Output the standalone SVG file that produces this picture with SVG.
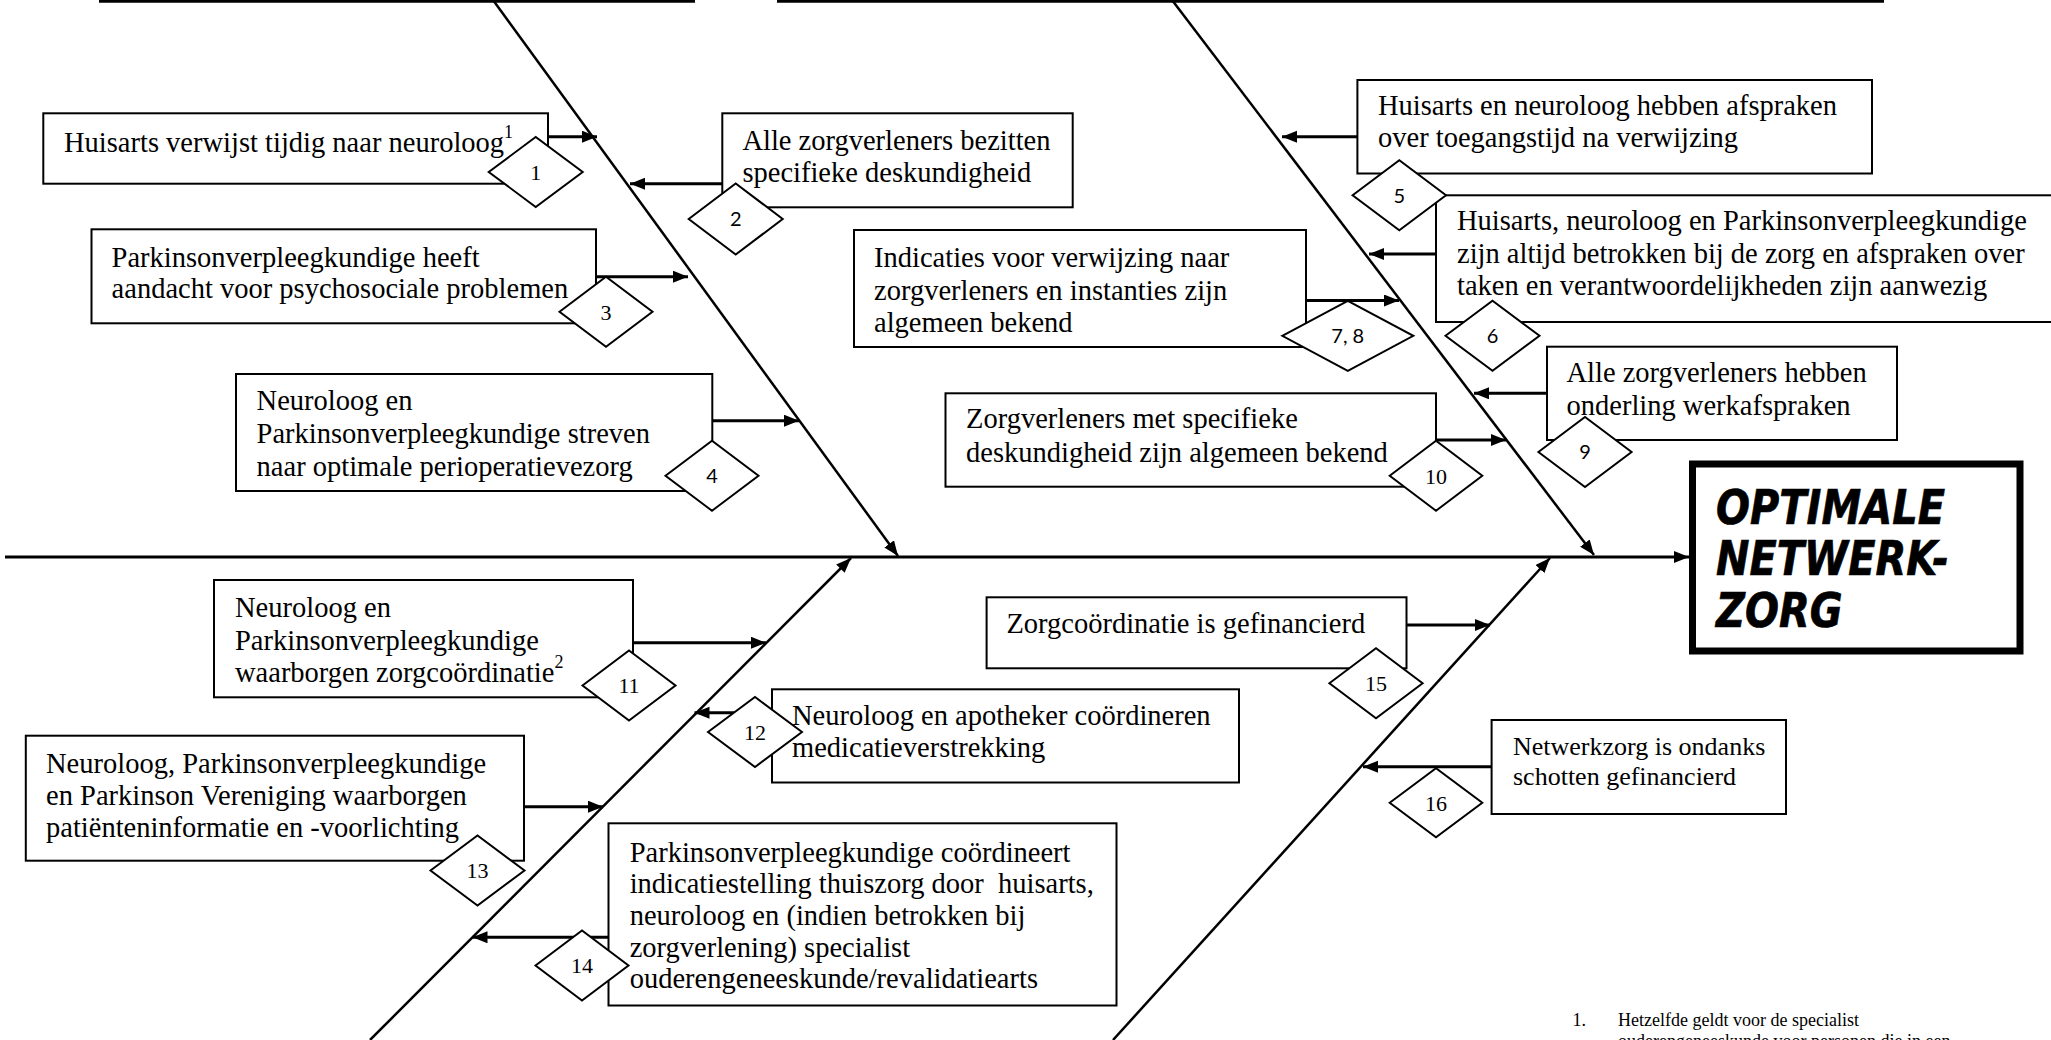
<svg xmlns="http://www.w3.org/2000/svg" width="2051" height="1040" viewBox="0 0 2051 1040">
<style>
.bg{fill:#fff}
.top{stroke:#000;stroke-width:5.5;fill:none}
.bone{stroke:#000;stroke-width:2.5;fill:none;marker-end:url(#ah)}
.spine{stroke:#000;stroke-width:3;fill:none;marker-end:url(#ah)}
.conn{stroke:#000;stroke-width:3;fill:none;marker-end:url(#ah)}
.box{fill:#fff;stroke:#000;stroke-width:2}
.dia{fill:#fff;stroke:#000;stroke-width:2}
.t{font-family:"Liberation Serif","Times New Roman",serif;font-size:28.5px;fill:#000}
.t16{font-family:"Liberation Serif","Times New Roman",serif;font-size:26px;fill:#000}
.sup{font-size:18px}
.ns{font-family:"Liberation Serif",serif;font-size:22px;text-anchor:middle;fill:#000}
.nn{font-family:Lato,"Open Sans",sans-serif;font-size:20px;text-anchor:middle;fill:#000}
.goal{fill:#fff;stroke:#000;stroke-width:7}
.gt{font-family:"DejaVu Sans",Verdana,sans-serif;font-weight:bold;font-style:italic;font-size:40px;fill:#000;stroke:#000;stroke-width:0.6}
.fn{font-family:"Liberation Serif",serif;font-size:18px;fill:#000}
</style>
<defs>
<marker id="ah" markerUnits="userSpaceOnUse" markerWidth="16" markerHeight="13" refX="15" refY="6" orient="auto">
<path d="M0,0 L15,6 L0,12 z" fill="#000"/>
</marker>
</defs>
<rect class="bg" x="0" y="0" width="2051" height="1040"/>

<g id="bones">
<line class="top" x1="99" y1="0" x2="695" y2="0"/>
<line class="top" x1="777" y1="0" x2="1884" y2="0"/>
<line class="bone" x1="493" y1="0" x2="898" y2="556"/>
<line class="bone" x1="1172" y1="0" x2="1594" y2="555"/>
<line class="bone" x1="370" y1="1040" x2="851" y2="558"/>
<line class="bone" x1="1113" y1="1040" x2="1550" y2="558"/>
<line class="spine" x1="5" y1="557" x2="1689" y2="557"/>
</g>

<g id="connectors">
<line class="conn" x1="548" y1="136.7" x2="597" y2="136.7"/>
<line class="conn" x1="722.3" y1="183.7" x2="630" y2="183.7"/>
<line class="conn" x1="596" y1="276.7" x2="688" y2="276.7"/>
<line class="conn" x1="712.3" y1="420.7" x2="799" y2="420.7"/>
<line class="conn" x1="1357.4" y1="136.7" x2="1282" y2="136.7"/>
<line class="conn" x1="1436" y1="254" x2="1369" y2="254"/>
<line class="conn" x1="1306" y1="300.5" x2="1399" y2="300.5"/>
<line class="conn" x1="1547" y1="393.3" x2="1474" y2="393.3"/>
<line class="conn" x1="1436" y1="440" x2="1506" y2="440"/>
<line class="conn" x1="633" y1="642.7" x2="766" y2="642.7"/>
<line class="conn" x1="772" y1="712.7" x2="694.5" y2="712.7"/>
<line class="conn" x1="524" y1="806.7" x2="603" y2="806.7"/>
<line class="conn" x1="608.5" y1="937.3" x2="472.5" y2="937.3"/>
<line class="conn" x1="1406.5" y1="625" x2="1490" y2="625"/>
<line class="conn" x1="1491.6" y1="766.7" x2="1363" y2="766.7"/>
</g>

<g id="node-1">
<rect class="box" x="43.3" y="113.3" width="504.7" height="70.4"/>
<text class="t" x="64" y="151.7">Huisarts verwijst tijdig naar neuroloog<tspan class="sup" dy="-14">1</tspan></text>
</g>
<g id="node-2">
<rect class="box" x="722.3" y="113.3" width="350.4" height="94"/>
<text class="t"><tspan x="742.4" y="150">Alle zorgverleners bezitten</tspan><tspan x="742.4" y="181.7">specifieke deskundigheid</tspan></text>
</g>
<g id="node-3">
<rect class="box" x="91.5" y="229.3" width="504.5" height="94"/>
<text class="t"><tspan x="111.6" y="266.7">Parkinsonverpleegkundige heeft</tspan><tspan x="111.6" y="298.3">aandacht voor psychosociale problemen</tspan></text>
</g>
<g id="node-4">
<rect class="box" x="236" y="374" width="476.3" height="117"/>
<text class="t"><tspan x="256.6" y="410">Neuroloog en</tspan><tspan x="256.6" y="443">Parkinsonverpleegkundige streven</tspan><tspan x="256.6" y="475.5">naar optimale perioperatievezorg</tspan></text>
</g>
<g id="node-5">
<rect class="box" x="1357.4" y="80" width="514.6" height="93.5"/>
<text class="t"><tspan x="1378" y="115">Huisarts en neuroloog hebben afspraken</tspan><tspan x="1378" y="146.7">over toegangstijd na verwijzing</tspan></text>
</g>
<g id="node-6">
<rect class="box" x="1436" y="195.3" width="617" height="126.7"/>
<text class="t"><tspan x="1457" y="230">Huisarts, neuroloog en Parkinsonverpleegkundige</tspan><tspan x="1457" y="263.3">zijn altijd betrokken bij de zorg en afspraken over</tspan><tspan x="1457" y="295">taken en verantwoordelijkheden zijn aanwezig</tspan></text>
</g>
<g id="node-7-8">
<rect class="box" x="854" y="230" width="452" height="117"/>
<text class="t"><tspan x="874" y="266.7">Indicaties voor verwijzing naar</tspan><tspan x="874" y="300">zorgverleners en instanties zijn</tspan><tspan x="874" y="331.7">algemeen bekend</tspan></text>
</g>
<g id="node-9">
<rect class="box" x="1547" y="346.7" width="350" height="93.3"/>
<text class="t"><tspan x="1566.5" y="381.7">Alle zorgverleners hebben</tspan><tspan x="1566.5" y="415">onderling werkafspraken</tspan></text>
</g>
<g id="node-10">
<rect class="box" x="945.5" y="393.3" width="490.5" height="93.4"/>
<text class="t"><tspan x="966" y="428.3">Zorgverleners met specifieke</tspan><tspan x="966" y="461.7">deskundigheid zijn algemeen bekend</tspan></text>
</g>
<g id="node-11">
<rect class="box" x="214" y="580" width="419" height="117.3"/>
<text class="t"><tspan x="235" y="616.7">Neuroloog en</tspan><tspan x="235" y="650">Parkinsonverpleegkundige</tspan><tspan x="235" y="681.7">waarborgen zorgcoördinatie</tspan><tspan class="sup" dy="-14">2</tspan></text>
</g>
<g id="node-12">
<rect class="box" x="772" y="689.3" width="467" height="93.2"/>
<text class="t"><tspan x="792" y="725">Neuroloog en apotheker coördineren</tspan><tspan x="792" y="756.7">medicatieverstrekking</tspan></text>
</g>
<g id="node-13">
<rect class="box" x="25.8" y="735.7" width="498.2" height="125"/>
<text class="t"><tspan x="46" y="773.3">Neuroloog, Parkinsonverpleegkundige</tspan><tspan x="46" y="805">en Parkinson Vereniging waarborgen</tspan><tspan x="46" y="836.7">patiënteninformatie en -voorlichting</tspan></text>
</g>
<g id="node-14">
<rect class="box" x="608.5" y="823.3" width="508" height="182.2"/>
<text class="t"><tspan x="629.7" y="861.7">Parkinsonverpleegkundige coördineert</tspan><tspan x="629.7" y="893.3" xml:space="preserve">indicatiestelling thuiszorg door  huisarts,</tspan><tspan x="629.7" y="925">neuroloog en (indien betrokken bij</tspan><tspan x="629.7" y="956.7">zorgverlening) specialist</tspan><tspan x="629.7" y="988.3">ouderengeneeskunde/revalidatiearts</tspan></text>
</g>
<g id="node-15">
<rect class="box" x="986.6" y="597.3" width="419.9" height="71"/>
<text class="t" x="1006.4" y="633.3">Zorgcoördinatie is gefinancierd</text>
</g>
<g id="node-16">
<rect class="box" x="1491.6" y="720" width="294.4" height="94"/>
<text class="t16"><tspan x="1513" y="755">Netwerkzorg is ondanks</tspan><tspan x="1513" y="785">schotten gefinancierd</tspan></text>
</g>

<g id="badges">
<g id="badge-1"><polygon class="dia" points="488.7,172 535.7,137 582.7,172 535.7,207"/><text class="ns" x="535.7" y="180">1</text></g>
<g id="badge-2"><polygon class="dia" points="688.7,219 735.7,183.5 782.7,219 735.7,254.5"/><text class="nn" x="735.7" y="226">2</text></g>
<g id="badge-3"><polygon class="dia" points="559.5,311.7 606,276.7 652.5,311.7 606,346.7"/><text class="ns" x="606" y="319.5">3</text></g>
<g id="badge-4"><polygon class="dia" points="665.5,475.7 712,440.7 758.5,475.7 712,510.7"/><text class="nn" x="712" y="483">4</text></g>
<g id="badge-5"><polygon class="dia" points="1352.6,195.3 1399.3,160.3 1446,195.3 1399.3,230.3"/><text class="nn" x="1399.3" y="202.5">5</text></g>
<g id="badge-6"><polygon class="dia" points="1445.5,335.7 1492.5,300.7 1539.5,335.7 1492.5,370.7"/><text class="nn" x="1492.5" y="343">6</text></g>
<g id="badge-7-8"><polygon class="dia" points="1282.3,335.8 1347.8,300.8 1413.3,335.8 1347.8,370.8"/><text class="nn" x="1347.8" y="343">7, 8</text></g>
<g id="badge-9"><polygon class="dia" points="1538.4,452 1585,417 1631.6,452 1585,487"/><text class="nn" x="1585" y="459">9</text></g>
<g id="badge-10"><polygon class="dia" points="1389.7,475.7 1436,440.7 1482.3,475.7 1436,510.7"/><text class="ns" x="1436" y="483.5">10</text></g>
<g id="badge-11"><polygon class="dia" points="582.5,685.5 629,650.5 675.5,685.5 629,720.5"/><text class="ns" x="629" y="693.3">11</text></g>
<g id="badge-12"><polygon class="dia" points="708,732 755,697 802,732 755,767"/><text class="ns" x="755" y="739.8">12</text></g>
<g id="badge-13"><polygon class="dia" points="430.5,870.5 477.5,835.5 524.5,870.5 477.5,905.5"/><text class="ns" x="477.5" y="878.3">13</text></g>
<g id="badge-14"><polygon class="dia" points="535.5,965.5 582,930.5 628.5,965.5 582,1000.5"/><text class="ns" x="582" y="973.3">14</text></g>
<g id="badge-15"><polygon class="dia" points="1329.4,683.3 1376,648.3 1422.6,683.3 1376,718.3"/><text class="ns" x="1376" y="691">15</text></g>
<g id="badge-16"><polygon class="dia" points="1389.7,802.8 1436,768.3 1482.3,802.8 1436,837.3"/><text class="ns" x="1436" y="810.5">16</text></g>
</g>

<g id="goal">
<rect class="goal" x="1692.5" y="464" width="327.5" height="187"/>
<text class="gt" transform="scale(1,1.18)"><tspan x="1716" y="444.5">OPTIMALE</tspan><tspan x="1716" y="487.5">NETWERK-</tspan><tspan x="1716" y="531.5">ZORG</tspan></text>
</g>

<g id="footnote">
<text class="fn" x="1572.5" y="1026">1.</text>
<text class="fn"><tspan x="1618" y="1026">Hetzelfde geldt voor de specialist</tspan><tspan x="1618" y="1046.5">ouderengeneeskunde voor personen die in een</tspan></text>
</g>
</svg>
